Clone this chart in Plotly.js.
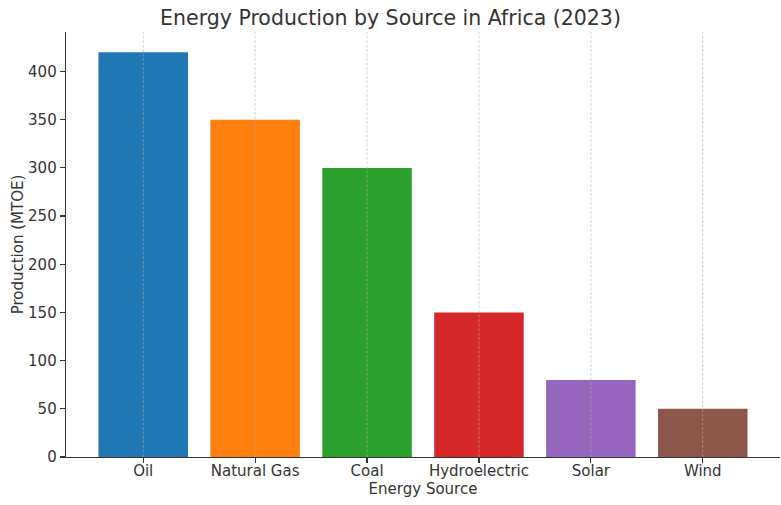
<!DOCTYPE html>
<html>
<head>
<meta charset="utf-8">
<script src="https://cdn.plot.ly/plotly-3.0.1.min.js"></script>
<style>html,body{margin:0;padding:0;background:#fff;}#chart{width:781px;height:505px;}</style>
</head>
<body>
<div id="chart"></div>
<script>
const categories = ["Oil", "Natural Gas", "Coal", "Hydroelectric", "Solar", "Wind"];
const production = [420, 350, 300, 150, 80, 50];
const barColors = ["#1f77b4", "#ff7f0e", "#2ca02c", "#d62728", "#9467bd", "#8c564b"];
const yTicks = [0, 50, 100, 150, 200, 250, 300, 350, 400];

const trace = {
  type: "bar",
  x: categories,
  y: production,
  width: 0.8,
  marker: { color: barColors, line: { width: 0 } },
  hoverinfo: "x+y"
};

// vertical dashed gridlines drawn above the bars (matplotlib style)
const gridShapes = categories.map(c => ({
  type: "line", xref: "x", yref: "paper",
  x0: c, x1: c, y0: 0, y1: 1,
  layer: "above",
  line: { color: "rgba(176,176,176,0.7)", width: 0.8, dash: "3px,1.5px" }
}));

const font = "DejaVu Sans, sans-serif";
const layout = {
  width: 781, height: 505,
  margin: { l: 66, r: 1, t: 32, b: 48 },
  paper_bgcolor: "#fff", plot_bgcolor: "#fff",
  showlegend: false,
  bargap: 0.2,
  shapes: gridShapes,
  title: { text: "Energy Production by Source in Africa (2023)", font: { family: font, size: 20.5, color: "#333" }, x: 0.5, xanchor: "center", y: 0.964, yanchor: "middle" },
  xaxis: {
    range: [-0.69, 5.69],
    showline: true, linecolor: "#333", linewidth: 1.3,
    ticks: "outside", ticklen: 5, tickcolor: "#333", tickwidth: 1.2,
    ticklabelstandoff: -5,
    showgrid: false,
    tickfont: { family: font, size: 15, color: "#333" },
    title: { text: "Energy Source", font: { family: font, size: 15, color: "#333" }, standoff: 4 },
    zeroline: false, fixedrange: true
  },
  yaxis: {
    range: [0, 441],
    tickvals: yTicks,
    showline: true, linecolor: "#333", linewidth: 1.3,
    ticks: "outside", ticklen: 5, tickcolor: "#333", tickwidth: 1.2,
    showgrid: false, zeroline: false,
    tickfont: { family: font, size: 15, color: "#333" },
    title: { text: "Production (MTOE)", font: { family: font, size: 15, color: "#333" }, standoff: 0 },
    fixedrange: true
  }
};

Plotly.newPlot("chart", [trace], layout, { displayModeBar: false, staticPlot: true });
</script>
</body>
</html>
